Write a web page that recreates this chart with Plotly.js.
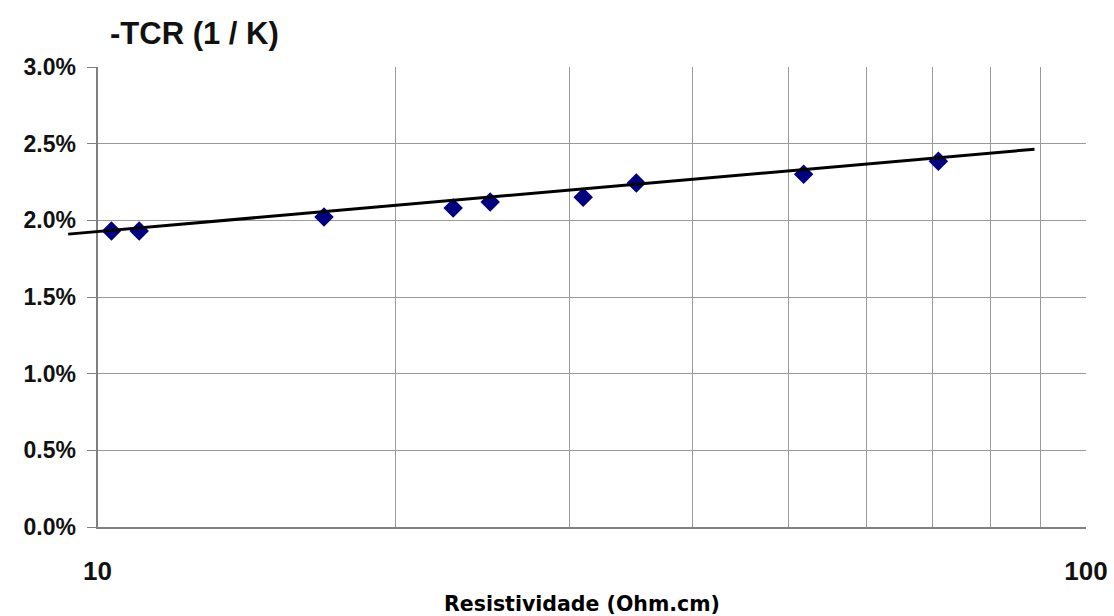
<!DOCTYPE html>
<html>
<head>
<meta charset="utf-8">
<script src="https://cdn.plot.ly/plotly-3.0.1.min.js"></script>
<style>html,body{margin:0;padding:0;background:#fff;}#chart{width:1114px;height:616px;}</style>
</head>
<body>
<div id="chart"></div>
<script>
// Data
const resistivity = [10.33, 11.02, 16.95, 22.9, 24.96, 31.0, 35.08, 51.8, 70.9];
const tcr = [0.01930, 0.01930, 0.02021, 0.02080, 0.02119, 0.02151, 0.02243, 0.02301, 0.02386];
const trendX = [9.34, 88.7];
const trendY = [0.01910, 0.02464];
const xTickVals = [10, 20, 30, 40, 50, 60, 70, 80, 90, 100];
const xTickText = ['10', '', '', '', '', '', '', '', '', '100'];
const yTickVals = [0, 0.005, 0.01, 0.015, 0.02, 0.025, 0.03];

const W = 1114, H = 616;
const margin = {l: 68, r: 28, t: 67, b: 89};
const plotW = W - margin.l - margin.r;
const axisLeftPx = 97.5;
const d0 = (axisLeftPx - margin.l) / plotW;
const pxPerDecade = (1 - d0) * plotW;
const x2lo = 1 - (axisLeftPx - margin.l) / pxPerDecade;

const gridColor = '#9a9a9a';
const axisColor = '#808080';
const yLabelFont = {family: 'Liberation Sans, Arial, sans-serif', size: 23, color: '#111', weight: 'bold'};
const xLabelFont = {family: 'Liberation Sans, Arial, sans-serif', size: 26, color: '#111', weight: 'bold'};

const traces = [
  {
    x: resistivity, y: tcr, type: 'scatter', mode: 'markers',
    xaxis: 'x', yaxis: 'y',
    marker: {symbol: 'diamond', size: 15, color: '#000080', line: {width: 0}},
    cliponaxis: false, hoverinfo: 'x+y', showlegend: false
  },
  {
    x: trendX, y: trendY, type: 'scatter', mode: 'lines',
    xaxis: 'x2', yaxis: 'y2',
    line: {color: '#000', width: 3},
    hoverinfo: 'skip', showlegend: false
  }
];

const layout = {
  width: W, height: H,
  margin: margin,
  paper_bgcolor: '#fff', plot_bgcolor: 'rgba(0,0,0,0)',
  showlegend: false,
  title: {
    text: '-TCR (1 / K)',
    xref: 'container', yref: 'container',
    x: 110 / W, xanchor: 'left',
    y: 1 - 33 / H, yanchor: 'middle',
    font: {family: 'Liberation Sans, Arial, sans-serif', size: 31, color: '#111', weight: 'bold'}
  },
  xaxis: {
    type: 'log', domain: [d0, 1], range: [1, 2],
    tickmode: 'array', tickvals: xTickVals, ticktext: xTickText,
    ticks: '', showgrid: true, gridcolor: gridColor, gridwidth: 1,
    showline: true, linecolor: axisColor, linewidth: 2,
    zeroline: false, tickfont: xLabelFont, ticklabelstandoff: 20,
    anchor: 'y'
  },
  yaxis: {
    range: [0, 0.03], tickmode: 'array', tickvals: yTickVals, tickformat: '.1%',
    ticks: 'outside', ticklen: 9, tickcolor: axisColor, tickwidth: 1,
    showgrid: true, gridcolor: gridColor, gridwidth: 1,
    showline: true, linecolor: axisColor, linewidth: 2,
    zeroline: false, tickfont: yLabelFont, ticklabelstandoff: 6, anchor: 'x'
  },
  xaxis2: {
    type: 'log', domain: [0, 1], range: [x2lo, 2],
    visible: false, showgrid: false, zeroline: false, anchor: 'y2'
  },
  yaxis2: {
    range: [0, 0.03], overlaying: 'y', anchor: 'x2',
    visible: false, showgrid: false, zeroline: false
  },
  annotations: [{
    text: 'Resistividade (Ohm.cm)',
    xref: 'paper', yref: 'paper',
    x: (582 - margin.l) / plotW, y: -(604 - (H - margin.b)) / (H - margin.t - margin.b),
    xanchor: 'center', yanchor: 'middle', showarrow: false,
    font: {family: 'DejaVu Sans, Verdana, sans-serif', size: 20.5, color: '#000', weight: 'bold'}
  }]
};

Plotly.newPlot('chart', traces, layout, {displayModeBar: false, staticPlot: true});
</script>
</body>
</html>
